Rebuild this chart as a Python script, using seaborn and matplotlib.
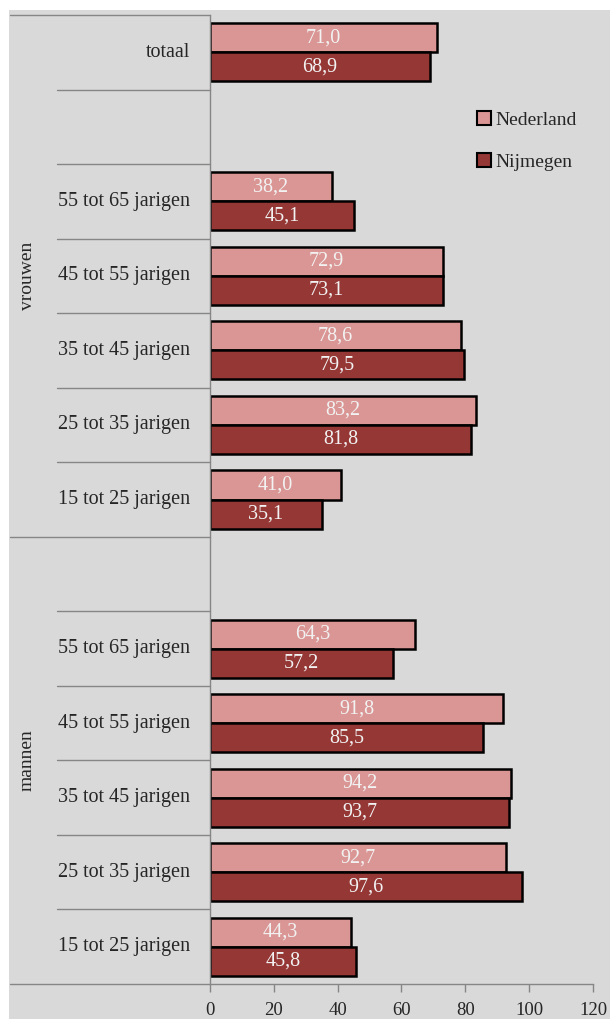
import pandas as pd
import seaborn as sns
import matplotlib.pyplot as plt
from matplotlib import transforms
from matplotlib.patches import Rectangle, Patch

# categories top to bottom (two empty spacer rows)
categories = ['totaal', 'leeg1', 'v55', 'v45', 'v35', 'v25', 'v15',
              'leeg2', 'm55', 'm45', 'm35', 'm25', 'm15']
row_labels = ['totaal', '', '55 tot 65 jarigen', '45 tot 55 jarigen', '35 tot 45 jarigen',
              '25 tot 35 jarigen', '15 tot 25 jarigen', '', '55 tot 65 jarigen',
              '45 tot 55 jarigen', '35 tot 45 jarigen', '25 tot 35 jarigen', '15 tot 25 jarigen']
groups = ['vrouwen', 'mannen']
series = ['Nederland', 'Nijmegen']
nederland = [71.0, None, 38.2, 72.9, 78.6, 83.2, 41.0, None, 64.3, 91.8, 94.2, 92.7, 44.3]
nijmegen = [68.9, None, 45.1, 73.1, 79.5, 81.8, 35.1, None, 57.2, 85.5, 93.7, 97.6, 45.8]

colors = ['#da9694', '#953735']
bg = '#d9d9d9'
line_col = '#868686'
txt_col = '#262626'

rows = []
for cat, a, b in zip(categories, nederland, nijmegen):
    if a is not None:
        rows.append({'cat': cat, 'regio': 'Nederland', 'waarde': a})
        rows.append({'cat': cat, 'regio': 'Nijmegen', 'waarde': b})
df = pd.DataFrame(rows)

sns.set_style("white")
plt.rcParams['font.family'] = ['Liberation Serif', 'DejaVu Serif']

W, H = 610, 1019
fig = plt.figure(figsize=(W / 100, H / 100), dpi=100, facecolor='white')
fig.patches.append(Rectangle((9 / W, 0), 1, (H - 10) / H, transform=fig.transFigure,
                             facecolor=bg, edgecolor='none', zorder=-10))

x0, x1, y0, y1 = 210, 593, 15, 984
ax = fig.add_axes([x0 / W, (H - y1) / H, (x1 - x0) / W, (y1 - y0) / H])
ax.set_facecolor('none')

sns.barplot(ax=ax, data=df, y='cat', x='waarde', hue='regio', order=categories,
            hue_order=series, palette=colors, saturation=1, orient='h', width=0.78,
            gap=0, edgecolor='black', linewidth=1.8, legend=False)

for cont in ax.containers:
    labels = [f"{b.get_width():.1f}".replace('.', ',') for b in cont]
    ax.bar_label(cont, labels=labels, label_type='center', color='#f2f2f2', fontsize=14.5)

ax.set_xlim(0, 120)
ax.set_ylim(len(categories) - 0.5, -0.5)
ax.set_xticks(range(0, 121, 20))
ax.set_yticks([])
ax.set_xlabel('')
ax.set_ylabel('')
ax.tick_params(axis='x', direction='out', length=6, width=1, color=line_col,
               labelsize=13.5, labelcolor=txt_col, pad=7, bottom=True)
for s in ['top', 'right']:
    ax.spines[s].set_visible(False)
for s in ['left', 'bottom']:
    ax.spines[s].set_color(line_col)
    ax.spines[s].set_linewidth(1)

# multi-level category axis on the left
tr = transforms.blended_transform_factory(ax.transAxes, ax.transData)
inner_x = (57 - x0) / (x1 - x0)
outer_x = (10 - x0) / (x1 - x0)
label_x = (190 - x0) / (x1 - x0)
group_x = (27 - x0) / (x1 - x0)
full_lines = [-0.5, 6.5, 12.5]
for i in range(len(categories) + 1):
    yb = i - 0.5
    start = outer_x if yb in full_lines else inner_x
    ax.plot([start, 0], [yb, yb], transform=tr, color=line_col, lw=1, clip_on=False)
for i, lab in enumerate(row_labels):
    if lab:
        ax.text(label_x, i, lab, transform=tr, ha='right', va='center',
                fontsize=14.5, color=txt_col)
ax.text(group_x, 3.0, groups[0], transform=tr, ha='center', va='center',
        rotation=90, fontsize=14, color=txt_col)
ax.text(group_x, 9.5, groups[1], transform=tr, ha='center', va='center',
        rotation=90, fontsize=14, color=txt_col)

handles = [Patch(facecolor=c, edgecolor='black', linewidth=1.5) for c in colors]
ax.legend(handles, series, loc='upper left', bbox_to_anchor=(460 / W, 1 - 94 / H),
          bbox_transform=fig.transFigure, frameon=False, handlelength=0.7,
          handleheight=0.7, handletextpad=0.2, labelspacing=1.25, fontsize=14,
          labelcolor=txt_col)

fig.savefig('out.png', dpi=100, facecolor='white')
